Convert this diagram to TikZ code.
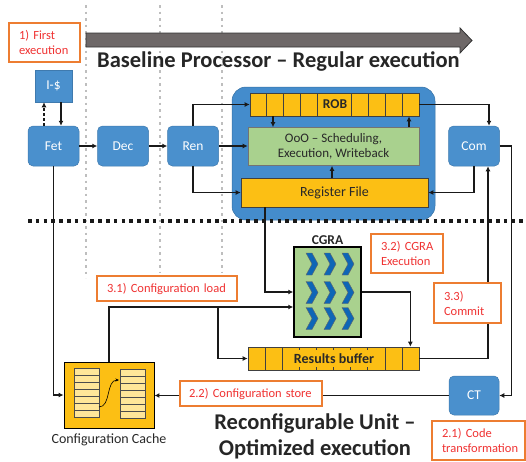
\documentclass[tikz,border=0pt]{standalone}
\usepackage{fontspec}
\setmainfont{Carlito}
\usetikzlibrary{arrows.meta,calc}
\definecolor{boxblue}{RGB}{74,144,205}
\definecolor{panelblue}{RGB}{68,140,204}
\definecolor{orfill}{RGB}{252,191,20}
\definecolor{grfill}{RGB}{169,209,142}
\definecolor{frameor}{RGB}{237,125,49}
\definecolor{redtxt}{RGB}{240,50,50}
\definecolor{chevblue}{RGB}{14,102,182}
\definecolor{paley}{RGB}{255,230,153}
\definecolor{arrgray}{RGB}{110,104,104}
\definecolor{dotgray}{RGB}{190,190,190}
\definecolor{txtdark}{RGB}{40,40,40}
\begin{document}
\begin{tikzpicture}[x=1pt,y=-1pt,
  bluebox/.style={draw=boxblue!85!black, line width=0.5pt, fill=boxblue, rounded corners=5pt, text=white,
    font=\fontsize{13.5}{15}\selectfont, minimum width=51pt, minimum height=40pt, inner sep=0pt},
  lbl/.style={draw=frameor, line width=1.3pt, fill=white, text=redtxt, align=left,
    font=\fontsize{12.5}{15}\selectfont, inner xsep=10pt, inner ysep=0pt},
  arr/.style={-{Latex[length=5pt,width=5pt]}, line width=1.1pt, draw=black!90},
  orbox/.style={draw=black!75, line width=0.7pt, fill=orfill, inner sep=0pt, text=txtdark},
  vdots/.style={draw=dotgray, line width=2.6pt, dash pattern=on 2.6pt off 3.9pt},
  hdots/.style={draw=black!90, line width=3.6pt, dash pattern=on 3.6pt off 4.2pt},
  cell/.style={draw=black!70, line width=0.6pt, fill=paley},
  chev/.style={fill=chevblue, draw=black!60, line width=0.4pt},
  bigtitle/.style={font=\fontsize{22.5}{26}\selectfont\bfseries, text=black!85, align=center, inner sep=0pt}
]
\useasboundingbox (0,0) rectangle (526,461);

% vertical gray dotted lines
\draw[vdots] (86,5) -- (86,278);
\draw[vdots] (160,5) -- (160,272);
\draw[vdots] (222,5) -- (222,272);

% big gray arrow
\draw[fill=arrgray, draw=black!80, line width=0.8pt]
  (86,33) -- (460,33) -- (460,28) -- (472,40.5) -- (460,53) -- (460,47) -- (86,47) -- cycle;

\node[bigtitle] (title) at (278.5,61) {Baseline Processor – Regular execution};

% label 1
\node[lbl, text width=51pt, minimum height=39pt] (l1) at (44.5,42.5) {\mbox{1) First}\\execution};

% pipeline boxes
\node[draw=boxblue!85!black, line width=0.5pt, fill=boxblue, text=white, font=\fontsize{13.5}{15}\selectfont,
  minimum width=37pt, minimum height=32pt, inner sep=0pt] (ics) at (53.5,86) {I-\$};
\node[bluebox] (fet) at (53.5,146) {Fet};
\node[bluebox] (dec) at (123,146) {Dec};
\node[bluebox] (ren) at (193,146) {Ren};
\node[bluebox] (com) at (474,146) {Com};
\node[bluebox, minimum width=50pt, minimum height=39pt] (ct) at (474,395.5) {CT};

% processor panel
\node[fill=panelblue, draw=panelblue!80!black, line width=0.5pt, rounded corners=14pt,
  minimum width=203pt, minimum height=133pt] (panel) at (333.5,153.5) {};

\node[orbox, minimum width=169pt, minimum height=23pt] (rob) at (334.5,104.5) {};
\foreach \i in {1,2,3,4,6,7,8,9} \draw[draw=black!75, line width=0.6pt] (249.5+17*\i,93) -- ++(0,23);
\node[font=\fontsize{13.5}{15}\selectfont\bfseries, text=txtdark] (robt) at (335,104.5) {ROB};

\node[draw=black!55, line width=0.7pt, fill=grfill, minimum width=171pt, minimum height=38pt,
  inner sep=0pt, align=center, text=txtdark, font=\fontsize{13}{15.5}\selectfont] (ooo) at (333.5,146.5)
  {OoO – Scheduling,\\Execution, Writeback};
\node[orbox, minimum width=187pt, minimum height=29pt, font=\fontsize{14}{16}\selectfont] (rf) at (334.5,192.5) {Register File};

% arrows inside panel
\coordinate (a1) at ([xshift=-61.5pt]rob.south);
\draw[arr] (a1) -- (a1 |- ooo.north);
\coordinate (a2) at ([xshift=75.5pt]ooo.north);
\draw[arr] (a2) -- (a2 |- rob.south);
\coordinate (a3) at ([xshift=-2.5pt]rf.north);
\draw[arr] (a3) -- (a3 |- ooo.south);

% horizontal dotted separator
\draw[hdots] (28,221) -- (526,221);

% CGRA
\node[draw=black, line width=1.5pt, fill=grfill, minimum width=67pt, minimum height=90pt, inner sep=0pt] (cgra) at (327.5,292) {};
\node[anchor=south, font=\fontsize{13.5}{15}\selectfont\bfseries, text=txtdark, inner sep=1pt] (cgrat) at (cgra.north) {CGRA};
\foreach \cx in {306,324,342} \foreach \cy in {253,281.5,307.5}
  \draw[chev] (\cx,\cy) -- (\cx+6,\cy) -- (\cx+12,\cy+11) -- (\cx+6,\cy+22) -- (\cx,\cy+22) -- (\cx+6,\cy+11) -- cycle;

% results buffer
\node[orbox, minimum width=171pt, minimum height=23pt] (rb) at (333.5,358.5) {};
\foreach \x in {265,282,385,402} \draw[draw=black!75, line width=0.6pt] (\x,347) -- (\x,370);
\foreach \x in {299,316,333,350,367} {\draw[draw=black!75, line width=0.6pt] (\x,347) -- (\x,350);
  \draw[draw=black!75, line width=0.6pt] (\x,367) -- (\x,370);}
\node[font=\fontsize{14}{16}\selectfont\bfseries, text=txtdark] (rbt) at (334,359) {Results buffer};

% configuration cache
\node[orbox, draw=black, line width=0.9pt, minimum width=90pt, minimum height=66pt] (cc) at (109,395) {};
\foreach \i in {0,...,6} \draw[cell] (74,368+7*\i) rectangle ++(25,7);
\foreach \i in {0,...,6} \draw[cell] (120,369+7.1*\i) rectangle ++(25,7.1);
\draw[-{Stealth[length=3.5pt,width=3pt]}, line width=0.6pt] (99,407) .. controls (111,407) and (106,380) .. (119,380);
\node[font=\fontsize{14}{16}\selectfont, text=txtdark] (cct) at (109,440) {Configuration Cache};

% connectors
\draw[arr] (fet.east) -- (dec.west);
\draw[arr] (dec.east) -- (ren.west);
\coordinate (f1) at ([xshift=-9.5pt]fet.north);
\draw[arr, dashed, dash pattern=on 3pt off 2pt] (f1) -- (f1 |- ics.south);
\coordinate (f2) at ([xshift=7.5pt]fet.north);
\draw[arr] (f2 |- ics.south) -- (f2);
\draw[arr] (ren.north) |- (rob.west);
\draw[arr] (ren.east) -- (ren.east -| ooo.west);
\draw[arr] (ren.south) |- (rf.west);
\draw[arr] (rob.east) -| ([xshift=15pt]com.north);
\draw[arr] (com.south) |- (rf.east);
\draw[arr] (com.east) -- ++(12,0) |- (ct.east);
\draw[arr] (rb.east) -| ([xshift=14pt]com.south);
\draw[arr] (fet.south) |- (cc.west);
\draw[arr] (ct.west) -- (ct.west -| cc.east);
\draw[arr] (cc.north) |- ([yshift=-15pt]cgra.west);
\coordinate (br) at (218,307);
\draw[arr] (br) |- (rb.west);
\coordinate (a4) at ([xshift=-69.5pt]rf.south);
\draw[arr] (a4) |- (cgra.west);
\draw[arr] (cgra.east) -| ([xshift=-9pt]rb.north east);

% labels
\node[lbl, text width=120pt, minimum height=25pt] (l31) at (167,288.5) {\mbox{3.1) Configuration load}};
\node[lbl, text width=52pt, minimum height=39pt] (l32) at (407,253.5) {\mbox{3.2) CGRA}\\Execution};
\node[lbl, text width=47pt, minimum height=40pt] (l33) at (467.5,303) {3.3)\\Commit};
\node[lbl, text width=124pt, minimum height=25pt, inner xsep=9pt] (l22) at (251,393.5) {\mbox{2.2) Configuration store}};
\node[lbl, text width=73pt, minimum height=39pt] (l21) at (478.5,440.5) {\mbox{2.1) Code}\\\mbox{transformation}};

\node[bigtitle] (title2) at (315,436.5) {Reconfigurable Unit –\\Optimized execution};
\end{tikzpicture}
\end{document}
